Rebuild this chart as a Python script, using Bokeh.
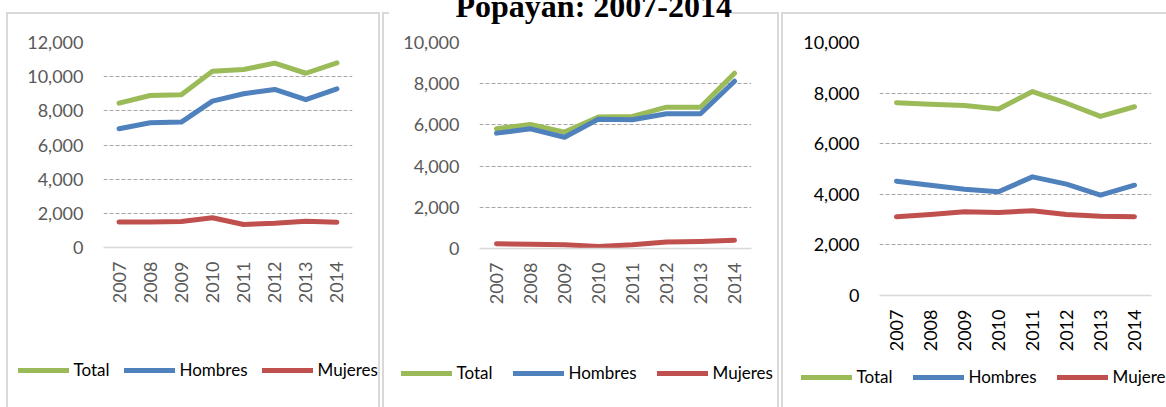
import math
from bokeh.plotting import figure
from bokeh.layouts import row, column
from bokeh.models import (FactorRange, Range1d, FixedTicker, NumeralTickFormatter,
                          Legend, LegendItem, Title)
from bokeh.embed import file_html
from bokeh.resources import INLINE

# ---------------- data ----------------
years = ["2007", "2008", "2009", "2010", "2011", "2012", "2013", "2014"]
series_names = ["Total", "Hombres", "Mujeres"]

p1_total = [8450, 8900, 8940, 10320, 10420, 10790, 10200, 10810]
p1_hombres = [6950, 7300, 7340, 8570, 9000, 9250, 8650, 9290]
p1_mujeres = [1500, 1500, 1520, 1740, 1350, 1420, 1540, 1480]

p2_total = [5810, 6020, 5650, 6380, 6410, 6860, 6860, 8510]
p2_hombres = [5600, 5810, 5400, 6280, 6250, 6540, 6540, 8120]
p2_mujeres = [230, 210, 180, 100, 180, 310, 340, 400]

p3_total = [7620, 7560, 7510, 7370, 8060, 7600, 7080, 7460]
p3_hombres = [4520, 4360, 4200, 4100, 4690, 4400, 3970, 4360]
p3_mujeres = [3110, 3200, 3310, 3280, 3350, 3200, 3130, 3110]

p1_ticks = [0, 2000, 4000, 6000, 8000, 10000, 12000]
p2_ticks = [0, 2000, 4000, 6000, 8000, 10000]
p3_ticks = [0, 2000, 4000, 6000, 8000, 10000]

title_text = "Popayán: 2007-2014"

# ---------------- style ----------------
COLORS = ["#9BBB59", "#4F81BD", "#C0504D"]
FONT = "Lato"
BORDER = "#D9D9D9"
PAGE_H = 407
EXTRA = 50          # chart canvases start this many px above the page top
LEG_TOP = 352       # page y where the legend strip starts
LEG_H = PAGE_H - LEG_TOP


def border_css(segments, dy=0):
    """segments: list of (x, y, w, h) rectangles, y in page pixels."""
    grad = "linear-gradient(%s,%s)" % (BORDER, BORDER)
    return {
        "background-image": ", ".join([grad] * len(segments)),
        "background-size": ", ".join("%dpx %dpx" % (w, h) for (x, y, w, h) in segments),
        "background-position": ", ".join("%dpx %dpx" % (x, y + dy) for (x, y, w, h) in segments),
        "background-repeat": "no-repeat",
    }


def make_panel(canvas_left, canvas_w, frame_left, frame_right, frame_top, frame_bottom,
               ymax, ticks, series, label_color, segments):
    fw = frame_right - frame_left
    fh = frame_bottom - frame_top
    p = figure(x_range=FactorRange(*years, range_padding=0), y_range=Range1d(0, ymax),
               frame_width=fw, frame_height=fh,
               min_border_left=frame_left - canvas_left,
               min_border_right=canvas_left + canvas_w - frame_right,
               min_border_top=frame_top + EXTRA, min_border_bottom=LEG_TOP - frame_bottom,
               output_backend="svg", toolbar_location=None,
               styles=border_css(segments, EXTRA))
    p.title.visible = False
    p.outline_line_color = None
    p.background_fill_color = "white"
    p.border_fill_color = None

    # grid
    p.xgrid.grid_line_color = None
    p.ygrid.ticker = FixedTicker(ticks=[t for t in ticks if t > 0])
    p.ygrid.grid_line_color = "#A6A6A6"
    p.ygrid.grid_line_dash = "4 2"
    p.ygrid.grid_line_width = 1

    # y axis
    p.yaxis.ticker = FixedTicker(ticks=ticks)
    p.yaxis.formatter = NumeralTickFormatter(format="0,0")
    p.yaxis.axis_line_color = None
    p.yaxis.major_tick_line_color = None
    p.yaxis.minor_tick_line_color = None
    p.yaxis.major_tick_out = 0
    p.yaxis.major_tick_in = 0
    p.yaxis.major_label_standoff = 20
    p.yaxis.major_label_text_font = FONT
    p.yaxis.major_label_text_font_size = "18px"
    p.yaxis.major_label_text_color = label_color

    # x axis
    p.xaxis.axis_line_color = BORDER
    p.xaxis.axis_line_width = 1.5
    p.xaxis.major_tick_line_color = None
    p.xaxis.minor_tick_line_color = None
    p.xaxis.major_tick_out = 0
    p.xaxis.major_tick_in = 0
    p.xaxis.major_label_standoff = 14
    p.xaxis.major_label_orientation = math.pi / 2
    p.xaxis.major_label_text_font = FONT
    p.xaxis.major_label_text_font_size = "18px"
    p.xaxis.major_label_text_color = label_color

    for name, vals, col in zip(series_names, series, COLORS):
        p.line(years, vals, line_color=col, line_width=5,
               line_cap="round", line_join="round")
    return p


def make_legend_strip(canvas_left, canvas_w, series, legend_x, legend_yc, spacing, segments):
    # a strip whose frame is the whole canvas; the series lie far outside its
    # y range, so only the legend (which samples their line style) is visible
    lf = figure(width=canvas_w, height=LEG_H, min_border=0,
                x_range=FactorRange(*years, range_padding=0), y_range=Range1d(0, 1),
                x_axis_location=None, y_axis_location=None,
                output_backend="svg", toolbar_location=None,
                styles=border_css(segments, -LEG_TOP))
    lf.title.visible = False
    lf.grid.visible = False
    lf.outline_line_color = None
    lf.background_fill_color = None
    lf.border_fill_color = None
    items = []
    for name, vals, col in zip(series_names, series, COLORS):
        r = lf.line(years, vals, line_color=col, line_width=5,
                    line_cap="round", line_join="round")
        items.append(LegendItem(label=name, renderers=[r]))
    legend = Legend(items=items, orientation="horizontal",
                    location=(legend_x - canvas_left, PAGE_H - (legend_yc + 10)),
                    glyph_width=51, glyph_height=20, label_height=20,
                    label_standoff=5, spacing=spacing, padding=0, margin=0,
                    border_line_color=None, background_fill_alpha=0,
                    label_text_font=FONT, label_text_font_size="17px",
                    label_text_color="black")
    lf.add_layout(legend)
    return lf


s1 = [p1_total, p1_hombres, p1_mujeres]
s2 = [p2_total, p2_hombres, p2_mujeres]
s3 = [p3_total, p3_hombres, p3_mujeres]

p1 = make_panel(0, 381, 103, 352, 42, 247, 12000, p1_ticks, s1, "#595959",
                [(6, 12, 2, 400), (6, 12, 374, 2), (378, 12, 2, 400)])
p2 = make_panel(381, 399, 479, 751, 42, 248, 10000, p2_ticks, s2, "#595959",
                [(1, 12, 2, 400), (1, 12, 7, 2), (350, 12, 48, 2), (396, 12, 2, 400)])
p3 = make_panel(780, 386, 879, 1151, 39, 292, 10000, p3_ticks, s3, "black",
                [(1, 12, 2, 400), (1, 12, 400, 2)])

l1 = make_legend_strip(0, 381, s1, 17.5, 370, 14,
                       [(6, LEG_TOP, 2, 100), (378, LEG_TOP, 2, 100)])
l2 = make_legend_strip(381, 399, s2, 400.5, 373, 20,
                       [(1, LEG_TOP, 2, 100), (396, LEG_TOP, 2, 100)])
l3 = make_legend_strip(780, 386, s3, 800.5, 377, 20,
                       [(1, LEG_TOP, 2, 100)])

# title above the middle panel
title = Title(text=title_text, align="left", offset=-24, standoff=37,
              text_font="Liberation Serif", text_font_style="bold",
              text_font_size="32px", text_color="black")
p2.add_layout(title, "above")

layout = column(row(p1, p2, p3, spacing=0), row(l1, l2, l3, spacing=0),
                spacing=0, margin=(-EXTRA, 0, 0, 0))

open("out.html", "w").write(file_html(layout, INLINE))
